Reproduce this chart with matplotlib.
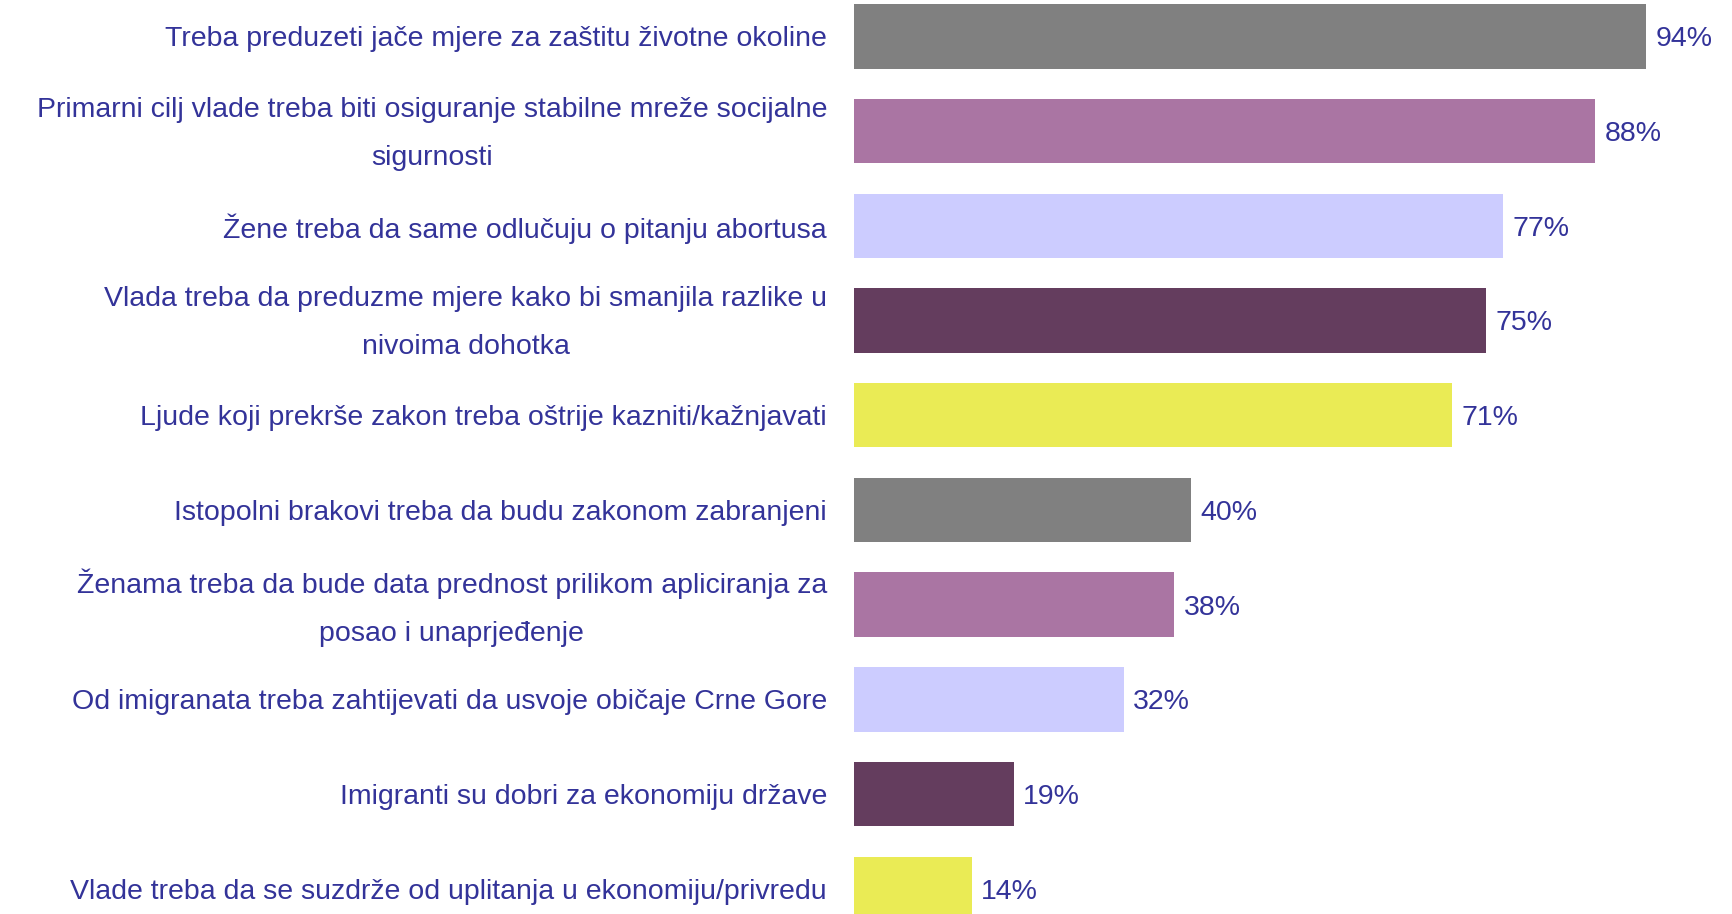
import matplotlib
matplotlib.use("Agg")
import matplotlib.pyplot as plt
from matplotlib import font_manager

labels = [
    "Treba preduzeti jače mjere za zaštitu životne okoline",
    "Primarni cilj vlade treba biti osiguranje stabilne mreže socijalne\nsigurnosti",
    "Žene treba da same odlučuju o pitanju abortusa",
    "Vlada treba da preduzme mjere kako bi smanjila razlike u\nnivoima dohotka",
    "Ljude koji prekrše zakon treba oštrije kazniti/kažnjavati",
    "Istopolni brakovi treba da budu zakonom zabranjeni",
    "Ženama treba da bude data prednost prilikom apliciranja za\nposao i unaprjeđenje",
    "Od imigranata treba zahtijevati da usvoje običaje Crne Gore",
    "Imigranti su dobri za ekonomiju države",
    "Vlade treba da se suzdrže od uplitanja u ekonomiju/privredu",
]
values = [94, 88, 77, 75, 71, 40, 38, 32, 19, 14]
colors = ["#808080", "#AA75A3", "#CCCCFF", "#643D5E", "#EAEB55"] * 2

text_color = "#333399"

# narrow font if it's there, else regular liberation a bit smaller
names = {f.name for f in font_manager.fontManager.ttflist}
if "Liberation Sans Narrow" in names:
    fam, fsize = ["Liberation Sans Narrow", "DejaVu Sans"], 25
else:
    fam, fsize = ["Liberation Sans", "DejaVu Sans"], 20.5

fig = plt.figure(figsize=(17.32, 9.14), dpi=100)
ax = fig.add_axes([854 / 1732, 0, 1 - 854 / 1732, 1])

y = list(range(len(values)))
ax.barh(y, values, height=0.68, color=colors)
ax.set_xlim(0, 104.2)
ax.set_ylim(9.266, -0.385)
ax.axis("off")

for i, (lab, v) in enumerate(zip(labels, values)):
    ax.text(-3.2, i + 0.03, lab, ha="right", va="center", multialignment="center",
            fontsize=fsize, family=fam, color=text_color, linespacing=2.1)
    ax.text(v + 1.1, i + 0.03, f"{v}%", ha="left", va="center",
            fontsize=fsize, family=fam, color=text_color)

plt.savefig("out.png", dpi=100)
